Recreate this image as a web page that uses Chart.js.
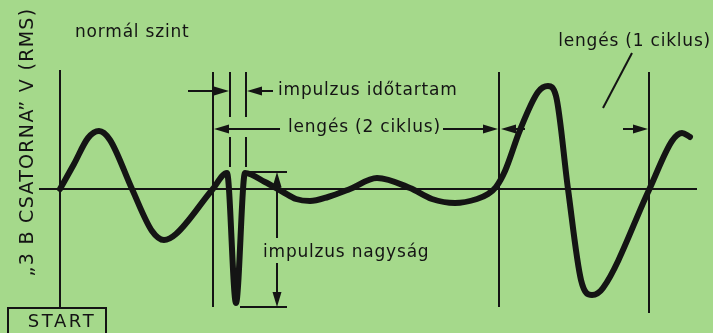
<!DOCTYPE html>
<html lang="hu">
<head>
    <meta charset="UTF-8">
    <title>3 B csatorna - impulzus és lengés</title>
    <script src="https://cdn.jsdelivr.net/npm/chart.js"></script>
    <style>
        html, body { margin: 0; padding: 0; background: #a5d98b; }
        #wrap { width: 713px; height: 333px; position: relative; }
    </style>
</head>
<body>
    <div id="wrap"><canvas id="waveChart"></canvas></div>
    <script>
        // time from START (arbitrary units) and level relative to the normal level
        const times = [0, 14, 28, 39, 50, 72, 92, 104, 116, 152, 167, 176, 185, 205, 223, 236, 250, 268, 290, 317, 350, 372, 395, 417, 428, 436, 445, 460, 478, 488, 496, 508, 521, 532, 543, 589, 612, 622, 630];
        const levels = [0, 0.25, 0.51, 0.58, 0.49, 0, -0.42, -0.51, -0.45, -0.01, 0.16, -1.14, 0.16, 0.07, -0.03, -0.1, -0.12, -0.08, 0, 0.11, 0.01, -0.1, -0.14, -0.1, -0.05, 0.02, 0.18, 0.59, 0.97, 1.03, 0.93, 0, -0.91, -1.06, -0.99, -0.01, 0.48, 0.56, 0.52];

        // vertical marker lines: time and the level pairs of each drawn piece
        const markerTimes = [0, 153, 170, 186, 439, 589];
        const markerPieces = [
            [[1.19, -1.19]],
            [[1.17, -1.18]],
            [[1.17, 0.72], [0.52, 0.22]],
            [[1.17, 0.72], [0.52, 0.22]],
            [[1.17, -1.18]],
            [[1.17, -1.24]]
        ];
        const axisRange = [-21, 637];

        // pulse height bracket
        const pulseTop = 0.17;
        const pulseBottom = -1.18;

        const ink = '#141414';

        const datasets = [{
            data: times.map((t, i) => ({ x: t, y: levels[i] })),
            borderColor: ink,
            borderWidth: 6,
            borderCapStyle: 'round',
            borderJoinStyle: 'round',
            cubicInterpolationMode: 'monotone',
            pointRadius: 0
        }, {
            data: axisRange.map(t => ({ x: t, y: 0 })),
            borderColor: ink,
            borderWidth: 2,
            pointRadius: 0
        }];
        markerTimes.forEach((t, i) => {
            const pts = [];
            markerPieces[i].forEach(p => {
                pts.push({ x: t, y: p[0] }, { x: t, y: p[1] }, { x: t, y: null });
            });
            datasets.push({ data: pts, borderColor: ink, borderWidth: 2, pointRadius: 0, spanGaps: false });
        });

        function arrow(ctx, x1, y1, x2, y2) {
            // shaft from (x1,y1) to tip (x2,y2)
            const a = Math.atan2(y2 - y1, x2 - x1);
            const len = 15, w = 4.5;
            ctx.beginPath();
            ctx.moveTo(x1, y1);
            ctx.lineTo(x2 - Math.cos(a) * len * 0.6, y2 - Math.sin(a) * len * 0.6);
            ctx.stroke();
            ctx.beginPath();
            ctx.moveTo(x2, y2);
            ctx.lineTo(x2 - Math.cos(a) * len + Math.sin(a) * w, y2 - Math.sin(a) * len - Math.cos(a) * w);
            ctx.lineTo(x2 - Math.cos(a) * len - Math.sin(a) * w, y2 - Math.sin(a) * len + Math.cos(a) * w);
            ctx.closePath();
            ctx.fill();
        }

        const notes = {
            id: 'notes',
            afterDatasetsDraw(chart) {
                const ctx = chart.ctx;
                const X = v => chart.scales.x.getPixelForValue(v);
                const Y = v => chart.scales.y.getPixelForValue(v);
                ctx.save();
                ctx.strokeStyle = ink;
                ctx.fillStyle = ink;
                ctx.lineWidth = 2;

                // duration arrows
                arrow(ctx, X(128), Y(0.98), X(169), Y(0.98));
                arrow(ctx, X(213), Y(0.98), X(187), Y(0.98));
                // 2 cycles
                arrow(ctx, X(220), Y(0.6), X(154), Y(0.6));
                arrow(ctx, X(383), Y(0.6), X(438), Y(0.6));
                // 1 cycle
                arrow(ctx, X(465), Y(0.6), X(441), Y(0.6));
                arrow(ctx, X(563), Y(0.6), X(588), Y(0.6));

                // pulse height bracket
                ctx.beginPath();
                ctx.moveTo(X(185), Y(pulseTop)); ctx.lineTo(X(227), Y(pulseTop));
                ctx.moveTo(X(180), Y(pulseBottom)); ctx.lineTo(X(227), Y(pulseBottom));
                ctx.stroke();
                arrow(ctx, X(217), Y(-0.49), X(217), Y(pulseTop));
                arrow(ctx, X(217), Y(-0.74), X(217), Y(pulseBottom));

                // leader line for 1 cycle
                ctx.beginPath();
                ctx.moveTo(X(572), Y(1.36)); ctx.lineTo(X(543), Y(0.81));
                ctx.stroke();

                // texts
                ctx.font = '17px "DejaVu Sans"';
                ctx.letterSpacing = '0.8px';
                ctx.textBaseline = 'middle';
                ctx.textAlign = 'left';
                ctx.fillText('normál szint', X(15), Y(1.56));
                ctx.fillText('impulzus időtartam', X(218), Y(0.98));
                ctx.fillText('lengés (2 ciklus)', X(228), Y(0.61));
                ctx.fillText('impulzus nagyság', X(203), Y(-0.64));
                ctx.textAlign = 'right';
                ctx.fillText('lengés (1 ciklus)', X(651), Y(1.47));

                // START box
                ctx.strokeRect(X(-52), Y(-1.19), X(46) - X(-52), 30);
                ctx.font = '18px "DejaVu Sans"';
                ctx.letterSpacing = '2.6px';
                ctx.textAlign = 'center';
                ctx.fillText('START', X(2), Y(-1.33));

                // rotated axis title
                ctx.translate(X(-32), Y(0.47));
                ctx.rotate(-Math.PI / 2);
                ctx.font = '19px "DejaVu Sans"';
                ctx.letterSpacing = '1.3px';
                ctx.fillText('„3 B CSATORNA” V (RMS)', 0, 0);
                ctx.restore();
            }
        };

        new Chart(document.getElementById('waveChart'), {
            type: 'line',
            data: { datasets: datasets },
            options: {
                responsive: true,
                maintainAspectRatio: false,
                animation: false,
                parsing: { xAxisKey: 'x', yAxisKey: 'y' },
                layout: { padding: 0 },
                plugins: { legend: { display: false }, tooltip: { enabled: false } },
                scales: {
                    x: { type: 'linear', min: -60, max: 653, display: false },
                    y: { type: 'linear', min: -1.44, max: 1.89, display: false }
                }
            },
            plugins: [notes]
        });
    </script>
</body>
</html>
